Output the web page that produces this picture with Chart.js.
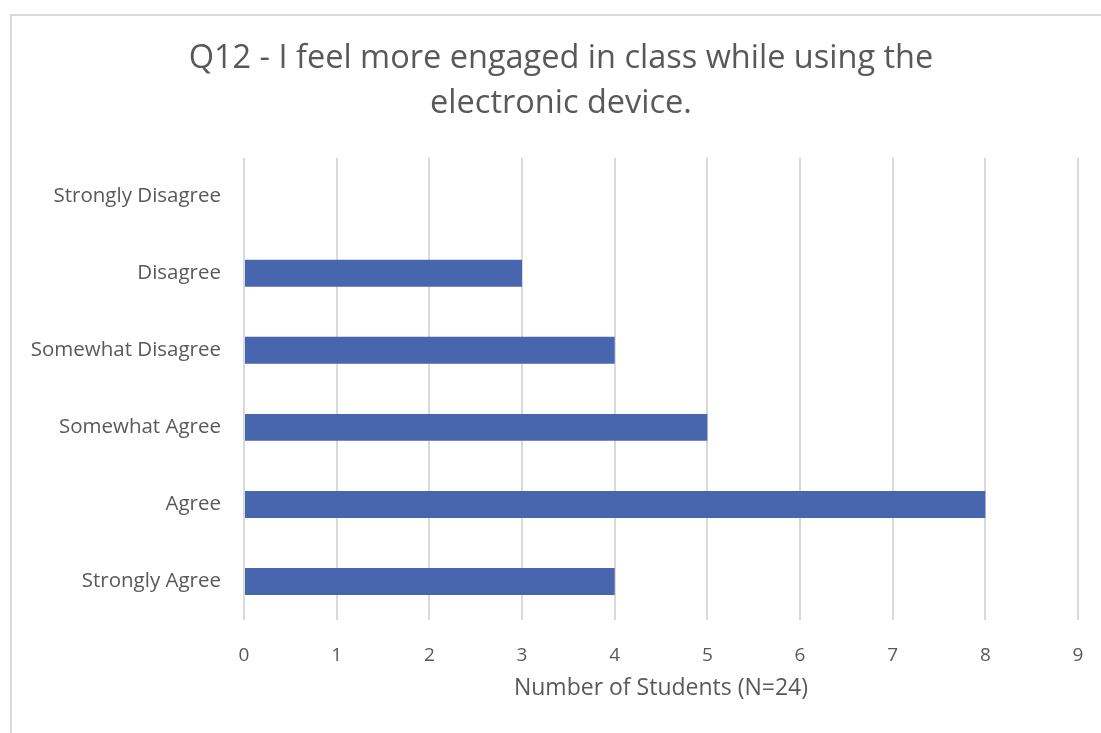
<!DOCTYPE html>
<html>
<head>
<meta charset="utf-8">
<script src="https://cdn.jsdelivr.net/npm/chart.js@4"></script>
<style>
  html, body { margin: 0; padding: 0; background: #fff; }
  #frame { position: absolute; left: 10px; top: 14px; width: 1100px; height: 730px; border: 2px solid #d9d9d9; }
  #wrap { position: absolute; left: 0; top: 0; width: 1101px; height: 733px; }
</style>
</head>
<body>
<div id="frame"></div>
<div id="wrap"><canvas id="grafico" width="1101" height="733"></canvas></div>
<script>
const categorias = ['Strongly Disagree', 'Disagree', 'Somewhat Disagree', 'Somewhat Agree', 'Agree', 'Strongly Agree'];
const alunos = [0, 3, 4, 5, 8, 4];
const tituloLinhas = ['Q12 - I feel more engaged in class while using the', 'electronic device.'];
const tituloEixoX = 'Number of Students (N=24)';
const eixoMin = 0;
const eixoMax = 9;

const corTexto = '#595959';
const fonte = "'Open Sans', 'Liberation Sans', sans-serif";

// the left padding below would clip the longest category label, so widen the label clip box
const soltarRotulos = {
    id: 'soltarRotulos',
    afterLayout(chart) {
        chart.scales.y.left = 0;
    }
};

let ctx = document.getElementById('grafico').getContext('2d');
new Chart(ctx, {
    type: 'bar',
    data: {
        labels: categorias,
        datasets: [{
            label: 'Students',
            data: alunos,
            backgroundColor: '#4866ad',
            borderWidth: 0,
            barPercentage: 0.7,
            categoryPercentage: 0.5
        }]
    },
    options: {
        indexAxis: 'y',
        responsive: false,
        animation: false,
        // left padding pushes the title centre to the right like the original
        layout: { padding: { left: 44, right: 23, top: 0, bottom: 31 } },
        plugins: {
            legend: { display: false },
            tooltip: { enabled: false },
            title: {
                display: true,
                text: tituloLinhas,
                color: corTexto,
                font: { family: fonte, size: 32.5, weight: 'normal', lineHeight: 1.38 },
                padding: { top: 36, bottom: 32 }
            }
        },
        scales: {
            x: {
                min: eixoMin,
                max: eixoMax,
                ticks: { stepSize: 1, color: corTexto, padding: 24, font: { family: fonte, size: 19 } },
                grid: { color: '#d9d9d9', lineWidth: 2, drawTicks: false },
                border: { display: false },
                title: {
                    display: true,
                    text: tituloEixoX,
                    color: corTexto,
                    font: { family: fonte, size: 23 },
                    padding: { top: 9, bottom: 0 }
                },
                afterFit: (scale) => {
                    scale.height = 82;
                    scale.paddingLeft = 0;
                    scale.paddingRight = 0;
                }
            },
            y: {
                ticks: { color: corTexto, padding: 23, font: { family: fonte, size: 20.5 } },
                grid: { display: false, drawTicks: false },
                border: { display: false },
                afterFit: (scale) => { scale.width = 200; }
            }
        }
    },
    plugins: [soltarRotulos]
});
</script>
</body>
</html>
